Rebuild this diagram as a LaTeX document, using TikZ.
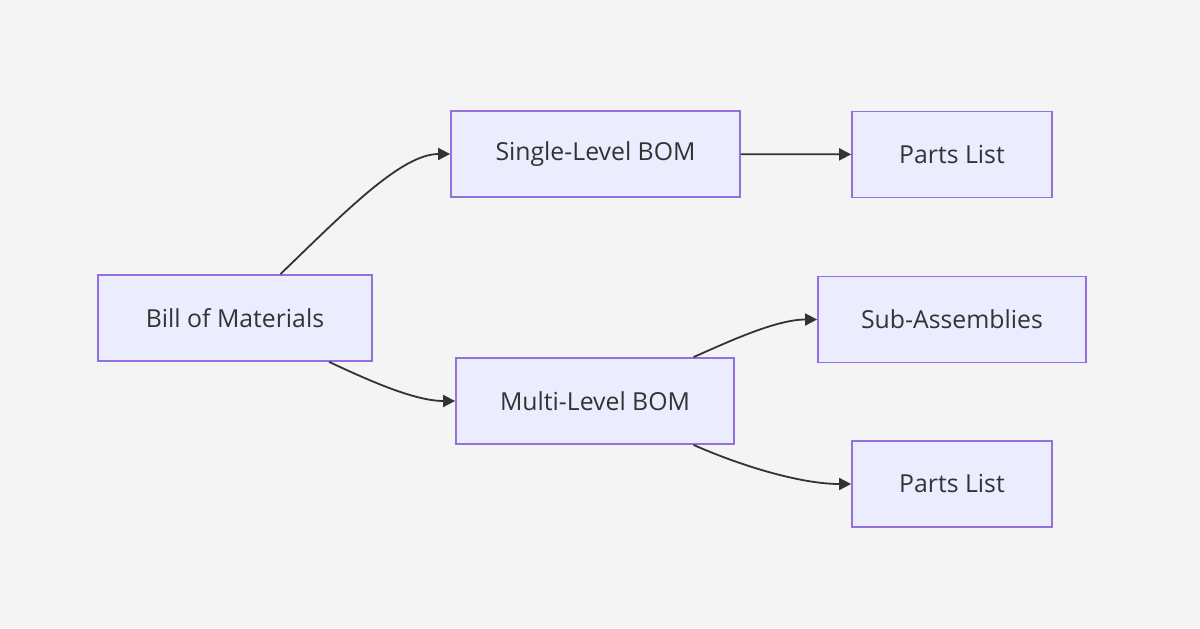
\documentclass[tikz,border=0pt]{standalone}
\usepackage{fontspec}
\setmainfont{Open Sans}
\definecolor{bgcol}{HTML}{F4F4F4}
\definecolor{bomfill}{HTML}{ECECFF}
\definecolor{bomline}{HTML}{9370DB}
\definecolor{bomtext}{HTML}{333333}
\usetikzlibrary{arrows.meta,positioning}

\begin{document}
\begin{tikzpicture}[x=0.5pt,y=-0.5pt,
    bombox/.style={draw=bomline,fill=bomfill,line width=0.9pt,text=bomtext,
        minimum height=43pt,inner sep=0pt,font=\fontsize{12.4}{15}\selectfont},
    flow/.style={draw=bomtext,line width=0.9pt,-{Triangle[length=6pt,width=6pt]}}]
  \path[fill=bgcol] (0,0) rectangle (1200,628);

  % nodes
  \node[bombox,minimum width=137pt] (bom)    at (235,318)   {Bill of Materials};
  \node[bombox,minimum width=144.5pt] (single) at (595.5,154) {Single-Level BOM};
  \node[bombox,minimum width=139pt] (multi)  at (595,401)   {Multi-Level BOM};
  \node[bombox,minimum width=100pt] (partsA) at (952,154.5) {Parts List};
  \node[bombox,minimum width=134pt] (subasm) at (952,319.5) {Sub-Assemblies};
  \node[bombox,minimum width=100pt] (partsB) at (952,484)   {Parts List};

  % edges
  \draw[flow] (bom) to[out=44,in=180,out looseness=1.1,in looseness=0.6] (single);
  \draw[flow] (bom) to[out=-25,in=180,looseness=0.8] (multi);
  \draw[flow] (single) -- (partsA);
  \draw[flow] (multi) to[out=24,in=180,looseness=0.8] (subasm);
  \draw[flow] (multi) to[out=-24,in=180,looseness=0.8] (partsB);
\end{tikzpicture}
\end{document}
